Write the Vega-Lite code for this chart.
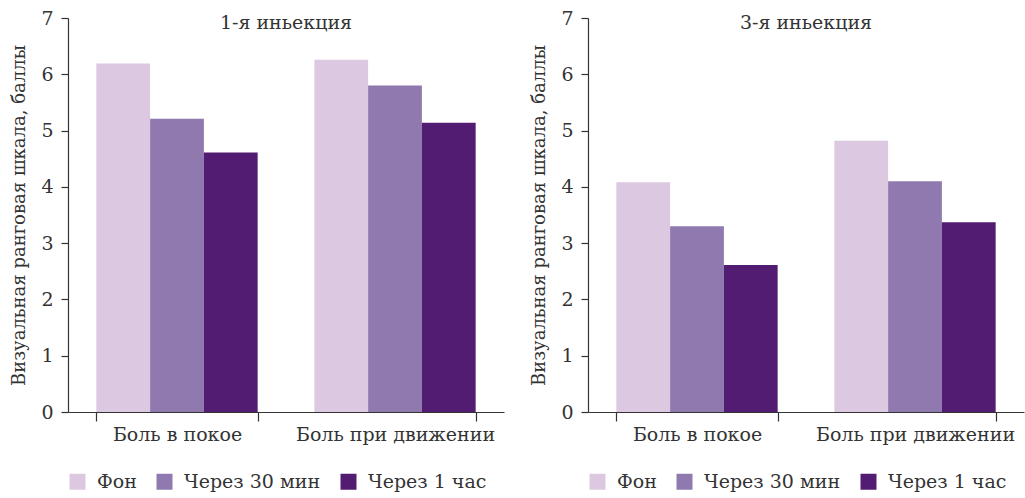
{
  "$schema": "https://vega.github.io/schema/vega-lite/v6.json",
  "background": "white",
  "padding": {"left": 10, "top": 9, "right": 3, "bottom": 0},
  "config": {
    "font": "DejaVu Serif",
    "view": {"stroke": null},
    "axis": {
      "labelFont": "DejaVu Serif", "labelFontSize": 19, "labelColor": "#333333", "labelLimit": 0,
      "titleFont": "DejaVu Serif", "titleFontSize": 18, "titleFontWeight": "normal", "titleColor": "#333333",
      "domainColor": "#333333", "tickColor": "#333333", "domainWidth": 1.2, "tickWidth": 1.2, "grid": false
    },
    "legend": {
      "labelFont": "DejaVu Serif", "labelFontSize": 19, "labelColor": "#333333", "labelLimit": 0,
      "symbolType": "square", "symbolSize": 256, "symbolStrokeWidth": 0, "symbolOpacity": 1,
      "labelOffset": 10, "columnPadding": 18, "orient": "bottom", "direction": "horizontal", "offset": 28
    },
    "title": {"font": "DejaVu Serif", "fontSize": 19, "fontWeight": "normal", "color": "#333333"}
  },
  "datasets": {
    "p1": [
      {"pain": "Боль в покое", "time": "Фон", "value": 6.19},
      {"pain": "Боль в покое", "time": "Через 30 мин", "value": 5.21},
      {"pain": "Боль в покое", "time": "Через 1 час", "value": 4.61},
      {"pain": "Боль при движении", "time": "Фон", "value": 6.26},
      {"pain": "Боль при движении", "time": "Через 30 мин", "value": 5.8},
      {"pain": "Боль при движении", "time": "Через 1 час", "value": 5.14}
    ],
    "p3": [
      {"pain": "Боль в покое", "time": "Фон", "value": 4.08},
      {"pain": "Боль в покое", "time": "Через 30 мин", "value": 3.3},
      {"pain": "Боль в покое", "time": "Через 1 час", "value": 2.61},
      {"pain": "Боль при движении", "time": "Фон", "value": 4.82},
      {"pain": "Боль при движении", "time": "Через 30 мин", "value": 4.1},
      {"pain": "Боль при движении", "time": "Через 1 час", "value": 3.37}
    ]
  },
  "spacing": 26,
  "resolve": {"legend": {"color": "independent"}},
  "hconcat": [
    {
      "data": {"name": "p1"},
      "width": 436, "height": 394,
      "title": {"text": "1-я иньекция", "frame": "group", "anchor": "middle", "baseline": "alphabetic", "offset": 0, "dy": 39},
      "mark": {"type": "bar"},
      "encoding": {
        "x": {"field": "pain", "type": "nominal", "sort": ["Боль в покое", "Боль при движении"],
              "scale": {"paddingInner": 0.26, "paddingOuter": 0.13},
              "axis": {"title": null, "labelAngle": 0, "tickBand": "extent", "tickSize": 9, "labelPadding": 4}},
        "xOffset": {"field": "time", "type": "nominal", "sort": ["Фон", "Через 30 мин", "Через 1 час"], "scale": {"paddingInner": 0, "paddingOuter": 0}},
        "y": {"field": "value", "type": "quantitative", "scale": {"domain": [0, 7], "nice": false},
              "axis": {"values": [0, 1, 2, 3, 4, 5, 6, 7], "tickSize": 7, "labelPadding": 8, "title": "Визуальная ранговая шкала, баллы", "titlePadding": 12}},
        "color": {"field": "time", "type": "nominal", "sort": ["Фон", "Через 30 мин", "Через 1 час"],
                  "scale": {"domain": ["Фон", "Через 30 мин", "Через 1 час"], "range": ["#dcc8e1", "#8f79ae", "#511c72"]},
                  "legend": {"title": null}}
      }
    },
    {
      "data": {"name": "p3"},
      "width": 436, "height": 394,
      "title": {"text": "3-я иньекция", "frame": "group", "anchor": "middle", "baseline": "alphabetic", "offset": 0, "dy": 39},
      "mark": {"type": "bar"},
      "encoding": {
        "x": {"field": "pain", "type": "nominal", "sort": ["Боль в покое", "Боль при движении"],
              "scale": {"paddingInner": 0.26, "paddingOuter": 0.13},
              "axis": {"title": null, "labelAngle": 0, "tickBand": "extent", "tickSize": 9, "labelPadding": 4}},
        "xOffset": {"field": "time", "type": "nominal", "sort": ["Фон", "Через 30 мин", "Через 1 час"], "scale": {"paddingInner": 0, "paddingOuter": 0}},
        "y": {"field": "value", "type": "quantitative", "scale": {"domain": [0, 7], "nice": false},
              "axis": {"values": [0, 1, 2, 3, 4, 5, 6, 7], "tickSize": 7, "labelPadding": 8, "title": "Визуальная ранговая шкала, баллы", "titlePadding": 12}},
        "color": {"field": "time", "type": "nominal", "sort": ["Фон", "Через 30 мин", "Через 1 час"],
                  "scale": {"domain": ["Фон", "Через 30 мин", "Через 1 час"], "range": ["#dcc8e1", "#8f79ae", "#511c72"]},
                  "legend": {"title": null}}
      }
    }
  ]
}
